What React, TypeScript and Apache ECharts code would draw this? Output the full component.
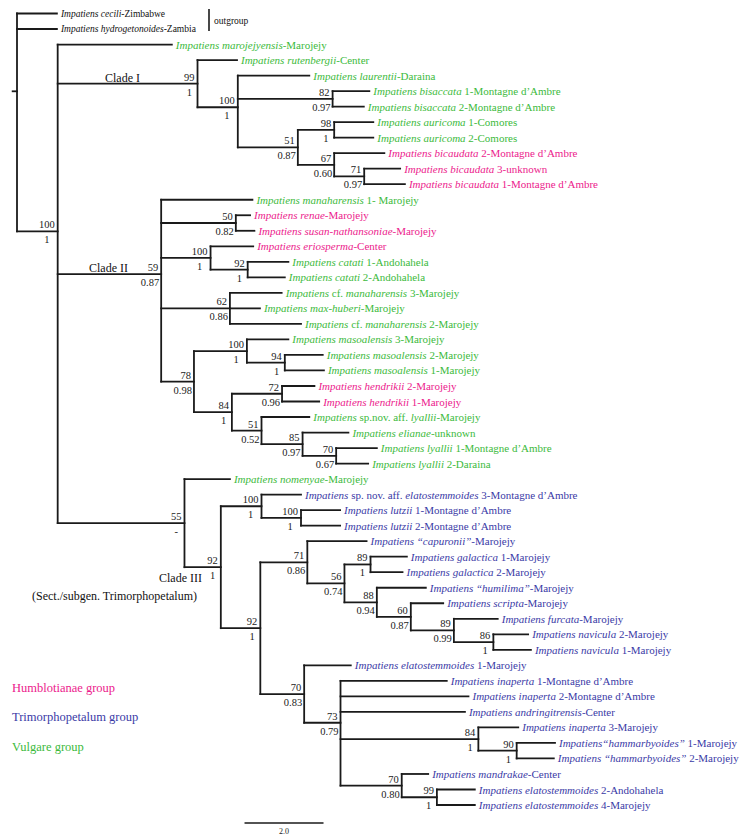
import React, { useEffect, useRef } from "react";
import * as echarts from "echarts";

// ---------- DATA ----------
// taxon labels (text between * * is italic)
const leafLabels: string[] = [
  "*Impatiens cecili*-Zimbabwe",
  "*Impatiens hydrogetonoides*-Zambia",
  "*Impatiens marojejyensis*-Marojejy",
  "*Impatiens rutenbergii*-Center",
  "*Impatiens laurentii*-Daraina",
  "*Impatiens bisaccata* 1-Montagne d\u2019Ambre",
  "*Impatiens bisaccata* 2-Montagne d\u2019Ambre",
  "*Impatiens auricoma* 1-Comores",
  "*Impatiens auricoma* 2-Comores",
  "*Impatiens bicaudata* 2-Montagne d\u2019Ambre",
  "*Impatiens bicaudata* 3-unknown",
  "*Impatiens bicaudata* 1-Montagne d\u2019Ambre",
  "*Impatiens manaharensis* 1- Marojejy",
  "*Impatiens renae*-Marojejy",
  "*Impatiens susan-nathansoniae*-Marojejy",
  "*Impatiens eriosperma*-Center",
  "*Impatiens catati* 1-Andohahela",
  "*Impatiens catati* 2-Andohahela",
  "*Impatiens* cf. *manaharensis* 3-Marojejy",
  "*Impatiens max-huberi*-Marojejy",
  "*Impatiens* cf. *manaharensis* 2-Marojejy",
  "*Impatiens masoalensis* 3-Marojejy",
  "*Impatiens masoalensis* 2-Marojejy",
  "*Impatiens masoalensis* 1-Marojejy",
  "*Impatiens hendrikii* 2-Marojejy",
  "*Impatiens hendrikii* 1-Marojejy",
  "*Impatiens* sp.nov. aff. *lyallii*-Marojejy",
  "*Impatiens elianae*-unknown",
  "*Impatiens lyallii* 1-Montagne d\u2019Ambre",
  "*Impatiens lyallii* 2-Daraina",
  "*Impatiens nomenyae*-Marojejy",
  "*Impatiens* sp. nov. aff. *elatostemmoides* 3-Montagne d\u2019Ambre",
  "*Impatiens lutzii* 1-Montagne d\u2019Ambre",
  "*Impatiens lutzii* 2-Montagne d\u2019Ambre",
  "*Impatiens \u201ccapuronii\u201d*-Marojejy",
  "*Impatiens galactica* 1-Marojejy",
  "*Impatiens galactica* 2-Marojejy",
  "*Impatiens \u201chumilima\u201d*-Marojejy",
  "*Impatiens scripta*-Marojejy",
  "*Impatiens furcata*-Marojejy",
  "*Impatiens navicula* 2-Marojejy",
  "*Impatiens navicula* 1-Marojejy",
  "*Impatiens elatostemmoides* 1-Marojejy",
  "*Impatiens inaperta* 1-Montagne d\u2019Ambre",
  "*Impatiens inaperta* 2-Montagne d\u2019Ambre",
  "*Impatiens andringitrensis*-Center",
  "*Impatiens inaperta* 3-Marojejy",
  "*Impatiens\u201chammarbyoides\u201d* 1-Marojejy",
  "*Impatiens \u201chammarbyoides\u201d* 2-Marojejy",
  "*Impatiens mandrakae*-Center",
  "*Impatiens elatostemmoides* 2-Andohahela",
  "*Impatiens elatostemmoides* 4-Marojejy",
];

// O = outgroup, V = Vulgare, H = Humblotianae, T = Trimorphopetalum
const leafGroups: string[] = [
  "O", "O", "V", "V", "V", "V", "V", "V", "V", "H", "H", "H",
  "V", "H", "H", "H", "V", "V", "V", "V", "V", "V", "V", "V", "H", "H",
  "V", "V", "V", "V", "V",
  "T", "T", "T", "T", "T", "T", "T", "T", "T", "T", "T", "T",
  "T", "T", "T", "T", "T", "T", "T", "T", "T",
];

// cumulative branch length from the root to each tip
const leafDepths: number[] = [
  1.01, 1.01, 3.92, 5.57, 7.40, 8.92, 8.78, 9.02, 9.02, 9.30, 9.70, 9.82,
  5.96, 5.90, 6.01, 5.98, 6.87, 6.78, 6.70, 6.15, 7.19, 6.87, 7.74, 7.77,
  7.53, 7.65, 7.40, 8.39, 9.11, 8.89, 5.39, 7.19, 8.18, 8.18, 8.85, 9.87,
  9.76, 10.35, 10.79, 12.17, 12.94, 13.01, 8.45, 10.88, 11.43, 11.34, 12.69,
  13.62, 13.59, 10.41, 11.59, 11.59,
];

// internal nodes
const nodeIds: string[] = [
  "root", "ingroup", "cladeI", "n100a", "nBis", "n51", "n98", "n67", "n71",
  "cladeII", "n50", "n100b", "n92", "n62", "n78", "n100c", "n94", "n84", "n72",
  "n51b", "n85", "n70", "cladeIII", "n92b", "n100d", "n100e", "n92c", "n71c",
  "n56", "n89", "n88", "n60", "n89b", "n86", "n70c", "n73", "n84b", "n90",
  "n70d", "n99",
];
const nodeDepths: number[] = [
  0, 1.03, 4.57, 5.59, 7.99, 7.11, 8.03, 8.03, 8.79,
  3.65, 5.54, 4.90, 5.84, 5.39, 4.48, 5.82, 6.78, 5.44, 6.71,
  6.19, 7.23, 8.08, 4.24, 5.16, 6.19, 7.19, 6.16, 7.35,
  8.29, 8.95, 9.11, 9.97, 11.06, 12.06, 7.27, 8.19, 11.68, 12.65,
  9.74, 10.63,
];
const nodeChildren: string[][] = [
  ["L1", "L2", "ingroup"],
  ["L3", "cladeI", "cladeII", "cladeIII"],
  ["L4", "n100a"],
  ["L5", "nBis", "n51"],
  ["L6", "L7"],
  ["n98", "n67"],
  ["L8", "L9"],
  ["L10", "n71"],
  ["L11", "L12"],
  ["L13", "n50", "n100b", "n62", "n78"],
  ["L14", "L15"],
  ["L16", "n92"],
  ["L17", "L18"],
  ["L19", "L20", "L21"],
  ["n100c", "n84"],
  ["L22", "n94"],
  ["L23", "L24"],
  ["n72", "n51b"],
  ["L25", "L26"],
  ["L27", "n85"],
  ["L28", "n70"],
  ["L29", "L30"],
  ["L31", "n92b"],
  ["n100d", "n92c"],
  ["L32", "n100e"],
  ["L33", "L34"],
  ["n71c", "n70c"],
  ["L35", "n56"],
  ["n89", "n88"],
  ["L36", "L37"],
  ["L38", "n60"],
  ["L39", "n89b"],
  ["L40", "n86"],
  ["L41", "L42"],
  ["L43", "n73"],
  ["L44", "L45", "L46", "n84b", "n70d"],
  ["L47", "n90"],
  ["L48", "L49"],
  ["L50", "n99"],
  ["L51", "L52"],
];
const nodeBootstrap: string[] = [
  "", "100", "99", "100", "82", "51", "98", "67", "71",
  "59", "50", "100", "92", "62", "78", "100", "94", "84", "72",
  "51", "85", "70", "55", "92", "100", "100", "92", "71",
  "56", "89", "88", "60", "89", "86", "70", "73", "84", "90",
  "70", "99",
];
const nodePosterior: string[] = [
  "", "1", "1", "1", "0.97", "0.87", "1", "0.60", "0.97",
  "0.87", "0.82", "1", "1", "0.86", "0.98", "1", "1", "1", "0.96",
  "0.52", "0.97", "0.67", "-", "1", "1", "1", "1", "0.86",
  "0.74", "1", "0.94", "0.87", "0.99", "1", "0.83", "0.79", "1", "1",
  "0.80", "1",
];

const legendLabels: string[] = ["Humblotianae group", "Trimorphopetalum group", "Vulgare group"];
const legendGroups: string[] = ["H", "T", "V"];
const scaleBarLength = 2.0;
const scaleBarLabel = "2.0";

// ---------- STYLE ----------
const FONT = "Liberation Serif";
const groupColor: Record<string, string> = {
  O: "#111111",
  V: "#3cba3c",
  H: "#ec1a8c",
  T: "#3a3aa6",
};
const LINE = "#1a1a1a";
const LW = 1.8;
const NUM_FS = 10.5;

// ---------- LAYOUT ----------
const isLeaf = (r: string) => /^L\d+$/.test(r);
const leafIdx = (r: string) => parseInt(r.slice(1), 10) - 1;
const nodeY: number[] = new Array(nodeIds.length).fill(0);
const nodeMinY: number[] = new Array(nodeIds.length).fill(0);
const nodeMaxY: number[] = new Array(nodeIds.length).fill(0);
const parentDepthOfLeaf: number[] = new Array(leafLabels.length).fill(0);
const parentDepthOfNode: number[] = new Array(nodeIds.length).fill(-0.11);

function layout(ref: string): number {
  if (isLeaf(ref)) return leafIdx(ref);
  const k = nodeIds.indexOf(ref);
  const ys = nodeChildren[k].map((c) => {
    if (isLeaf(c)) parentDepthOfLeaf[leafIdx(c)] = nodeDepths[k];
    else parentDepthOfNode[nodeIds.indexOf(c)] = nodeDepths[k];
    return layout(c);
  });
  const y = ys.reduce((a, b) => a + b, 0) / ys.length;
  nodeY[k] = y;
  nodeMinY[k] = Math.min(...ys);
  nodeMaxY[k] = Math.max(...ys);
  return y;
}
layout("root");

function toRich(s: string): string {
  return s
    .split("*")
    .map((seg, i) => (seg ? `{${i % 2 ? "i" : "n"}|${seg}}` : ""))
    .join("");
}

export default function App() {
  const ref = useRef<HTMLDivElement>(null);
  useEffect(() => {
    document.body.style.margin = "0";
    if (!ref.current) return;
    const chart = echarts.init(ref.current, undefined, { renderer: "svg" });

    const leafData = leafLabels.map((_, i) => [leafDepths[i], i, parentDepthOfLeaf[i], i]);
    const nodeData = nodeIds.map((_, k) => [
      nodeDepths[k], nodeY[k], parentDepthOfNode[k], nodeMinY[k], nodeMaxY[k], k,
    ]);

    const txt = (text: string, fill: string, size: number, extra: any = {}) => ({
      text, fill, fontFamily: FONT, fontSize: size, verticalAlign: "middle", ...extra,
    });

    const option: any = {
      animation: false,
      backgroundColor: "#ffffff",
      textStyle: { fontFamily: FONT },
      grid: { left: 0, right: 0, top: 0, bottom: 0 },
      xAxis: { type: "value", min: -17 / 39.5, max: (756 - 17) / 39.5, show: false },
      yAxis: {
        type: "value", inverse: true,
        min: (0 - 13.5) / 15.52, max: (836 - 13.5) / 15.52, show: false,
      },
      series: [
        {
          type: "custom",
          coordinateSystem: "cartesian2d",
          data: nodeData,
          encode: { x: 0, y: 1 },
          silent: true,
          renderItem: (params: any, api: any) => {
            const d = api.value(0), y = api.value(1), pd = api.value(2);
            const y0 = api.value(3), y1 = api.value(4), k = api.value(5);
            const p = api.coord([d, y]);
            const pp = api.coord([pd, y]);
            const t = api.coord([d, y0]);
            const b = api.coord([d, y1]);
            const ls = { stroke: LINE, lineWidth: LW, lineCap: "square" };
            const children: any[] = [
              { type: "line", shape: { x1: pp[0], y1: p[1], x2: p[0], y2: p[1] }, style: ls },
              { type: "line", shape: { x1: t[0], y1: t[1], x2: b[0], y2: b[1] }, style: ls },
            ];
            const boot = nodeBootstrap[k];
            const post = nodePosterior[k];
            if (boot) {
              children.push({
                type: "text", x: p[0] - 3, y: p[1] - 6.5,
                style: txt(boot, "#222", NUM_FS, { align: "right" }),
              });
            }
            if (post) {
              const isShort = post.length === 1;
              const bootW = boot.length * NUM_FS * 0.5;
              children.push({
                type: "text",
                x: isShort ? p[0] - 3 - bootW / 2 : p[0] - 2,
                y: p[1] + 8.5,
                style: txt(post, "#222", NUM_FS, { align: isShort ? "center" : "right" }),
              });
            }
            return { type: "group", children };
          },
          z: 2,
        },
        {
          type: "custom",
          coordinateSystem: "cartesian2d",
          data: leafData,
          encode: { x: 0, y: 1 },
          silent: true,
          renderItem: (params: any, api: any) => {
            const d = api.value(0), y = api.value(1), pd = api.value(2), i = api.value(3);
            const p = api.coord([d, y]);
            const pp = api.coord([pd, y]);
            const g = leafGroups[i];
            const color = groupColor[g];
            const fs = g === "O" ? 9.5 : 11;
            return {
              type: "group",
              children: [
                { type: "line", shape: { x1: pp[0], y1: p[1], x2: p[0], y2: p[1] }, style: { stroke: LINE, lineWidth: LW, lineCap: "square" } },
                {
                  type: "text", x: p[0] + 4, y: p[1],
                  style: txt(toRich(leafLabels[i]), color, fs, {
                    align: "left",
                    rich: {
                      i: { fontStyle: "italic", fill: color, fontFamily: FONT, fontSize: fs },
                      n: { fill: color, fontFamily: FONT, fontSize: fs },
                    },
                  }),
                },
              ],
            };
          },
          z: 3,
        },
        {
          type: "custom",
          coordinateSystem: "cartesian2d",
          data: [[5.76, 52.16]],
          encode: { x: 0, y: 1 },
          silent: true,
          renderItem: (params: any, api: any) => {
            const a = api.coord([api.value(0), api.value(1)]);
            const b = api.coord([api.value(0) + scaleBarLength, api.value(1)]);
            return {
              type: "group",
              children: [
                { type: "line", shape: { x1: a[0], y1: a[1], x2: b[0], y2: b[1] }, style: { stroke: LINE, lineWidth: 1.6 } },
                {
                  type: "text", x: (a[0] + b[0]) / 2, y: a[1] + 8,
                  style: txt(scaleBarLabel, "#222", 8, { align: "center" }),
                },
              ],
            };
          },
        },
      ],
      graphic: [
        { type: "line", shape: { x1: 209, y1: 9, x2: 209, y2: 31 }, style: { stroke: LINE, lineWidth: 1.6 } },
        { type: "text", x: 214, y: 21, style: txt("outgroup", "#111", 9.5) },
        { type: "text", x: 105, y: 78, style: txt("Clade I", "#111", 12) },
        { type: "text", x: 89, y: 268, style: txt("Clade II", "#111", 12) },
        { type: "text", x: 159, y: 578, style: txt("Clade III", "#111", 12) },
        { type: "text", x: 32, y: 596, style: txt("(Sect./subgen. Trimorphopetalum)", "#111", 12) },
        ...legendLabels.map((t, i) => ({
          type: "text", x: 12, y: 688 + i * 29.4,
          style: txt(t, groupColor[legendGroups[i]], 12.5),
        })),
      ],
    };
    chart.setOption(option);
    return () => chart.dispose();
  }, []);
  return <div ref={ref} style={{ width: 756, height: 836 }} />;
}
